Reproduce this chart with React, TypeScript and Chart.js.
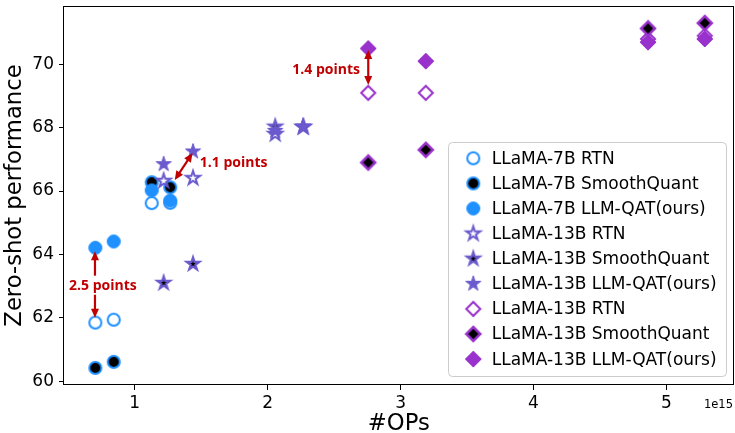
import { useEffect, useRef } from 'react';
import { Chart, registerables } from 'chart.js';

Chart.register(...registerables);

// ---------- data ----------
const xOps7B = [0.704, 0.842, 1.128, 1.267];
const xOps13B = [1.218, 1.439, 2.057, 2.268];
const xOps30B = [2.757, 3.19, 4.862, 5.289];

const rtn7B = [61.85, 61.94, 65.62, 65.63];
const sq7B = [60.42, 60.61, 66.28, 66.12];
const qat7B = [64.21, 64.41, 66.02, 65.7];

const rtn13B = [66.32, 66.41, 67.8, 68.02];
const sq13B = [63.1, 63.7, 68.03, 68.02];
const qat13B = [66.85, 67.25, 67.9, 68.04];

const rtn30B = [69.1, 69.1, 70.8, 70.9];
const sq30B = [66.9, 67.3, 71.13, 71.3];
const qat30B = [70.5, 70.1, 70.7, 70.8];

const seriesLabels = [
  'LLaMA-7B RTN',
  'LLaMA-7B SmoothQuant',
  'LLaMA-7B LLM-QAT(ours)',
  'LLaMA-13B RTN',
  'LLaMA-13B SmoothQuant',
  'LLaMA-13B LLM-QAT(ours)',
  'LLaMA-13B RTN',
  'LLaMA-13B SmoothQuant',
  'LLaMA-13B LLM-QAT(ours)',
];

const xTicks = [1, 2, 3, 4, 5];
const yTicks = [60, 62, 64, 66, 68, 70];
const xRange = [0.468, 5.505];
const yRange = [59.88, 71.84];

const xTitle = '#OPs';
const yTitle = 'Zero-shot performance';
const xOffsetText = '1e15';

// annotations (data coordinates)
const noteTexts = ['2.5 points', '1.1 points', '1.4 points'];
const noteX = [0.761, 1.49, 2.695];
const noteY = [63.01, 66.88, 69.82];
const noteAlign = ['center', 'left', 'right'];

const arrowX1 = [0.701, 0.701, 1.301, 2.757];
const arrowY1 = [63.33, 62.73, 66.35, 69.35];
const arrowX2 = [0.701, 0.701, 1.435, 2.757];
const arrowY2 = [64.1, 62.0, 67.2, 70.45];
const arrowBoth = [false, false, true, true];

// ---------- styles ----------
const BLUE = '#1E90FF';
const SLATE = '#6A5ACD';
const ORCHID = '#9932CC';
const RED = '#C00000';
const FONT = "'DejaVu Sans', sans-serif";

type Shape = 'circle' | 'star' | 'diamond';

function makeMarker(shape: Shape, size: number, fill: string | null, stroke: string, lw: number) {
  const c = document.createElement('canvas');
  c.width = 26;
  c.height = 26;
  const g = c.getContext('2d')!;
  const cx = 13, cy = 13;
  g.beginPath();
  if (shape === 'circle') {
    g.arc(cx, cy, size, 0, Math.PI * 2);
  } else if (shape === 'star') {
    const r = size * 0.381966;
    for (let k = 0; k < 10; k++) {
      const rad = k % 2 === 0 ? size : r;
      const a = -Math.PI / 2 + (k * Math.PI) / 5;
      const px = cx + rad * Math.cos(a);
      const py = cy + rad * Math.sin(a);
      if (k === 0) g.moveTo(px, py);
      else g.lineTo(px, py);
    }
  } else {
    g.moveTo(cx, cy - size);
    g.lineTo(cx + size, cy);
    g.lineTo(cx, cy + size);
    g.lineTo(cx - size, cy);
  }
  g.closePath();
  g.lineJoin = 'miter';
  if (fill) {
    g.fillStyle = fill;
    g.fill();
  }
  g.lineWidth = lw;
  g.strokeStyle = stroke;
  g.stroke();
  return c;
}

function drawArrowHead(ctx: CanvasRenderingContext2D, x: number, y: number, ang: number) {
  const L = 9, W = 4;
  ctx.beginPath();
  ctx.moveTo(x, y);
  ctx.lineTo(x - L * Math.cos(ang) + W * Math.sin(ang), y - L * Math.sin(ang) - W * Math.cos(ang));
  ctx.lineTo(x - L * Math.cos(ang) - W * Math.sin(ang), y - L * Math.sin(ang) + W * Math.cos(ang));
  ctx.closePath();
  ctx.fill();
}

const overlayPlugin = {
  id: 'overlay',
  afterDatasetsDraw(chart: any) {
    const { ctx, chartArea: ca, scales } = chart;
    const xs = scales.x, ys = scales.y;
    ctx.save();
    // frame
    ctx.strokeStyle = '#000';
    ctx.lineWidth = 1;
    const l = Math.round(ca.left) - 0.5, t = Math.round(ca.top) + 0.5;
    const r = Math.round(ca.right) - 0.5, b = Math.round(ca.bottom) - 0.5;
    ctx.strokeRect(l, t, r - l, b - t);

    // arrows
    ctx.strokeStyle = RED;
    ctx.fillStyle = RED;
    ctx.lineWidth = 2.2;
    for (let i = 0; i < arrowX1.length; i++) {
      const x1 = xs.getPixelForValue(arrowX1[i]);
      const y1 = ys.getPixelForValue(arrowY1[i]);
      const x2 = xs.getPixelForValue(arrowX2[i]);
      const y2 = ys.getPixelForValue(arrowY2[i]);
      const ang = Math.atan2(y2 - y1, x2 - x1);
      const sx = arrowBoth[i] ? x1 + 7 * Math.cos(ang) : x1;
      const sy = arrowBoth[i] ? y1 + 7 * Math.sin(ang) : y1;
      ctx.beginPath();
      ctx.moveTo(sx, sy);
      ctx.lineTo(x2 - 7 * Math.cos(ang), y2 - 7 * Math.sin(ang));
      ctx.stroke();
      drawArrowHead(ctx, x2, y2, ang);
      if (arrowBoth[i]) drawArrowHead(ctx, x1, y1, ang + Math.PI);
    }
    // annotation texts
    ctx.font = "bold 14px 'Open Sans', sans-serif";
    ctx.textBaseline = 'middle';
    for (let i = 0; i < noteTexts.length; i++) {
      ctx.textAlign = noteAlign[i] as CanvasTextAlign;
      ctx.fillText(noteTexts[i], xs.getPixelForValue(noteX[i]), ys.getPixelForValue(noteY[i]));
    }

    // legend
    const lx = 448.5, ly = 142.5, lw = 278, lh = 234;
    ctx.beginPath();
    ctx.roundRect(lx, ly, lw, lh, 4);
    ctx.fillStyle = 'rgba(255,255,255,0.85)';
    ctx.fill();
    ctx.strokeStyle = '#cccccc';
    ctx.lineWidth = 1;
    ctx.stroke();
    ctx.font = `17px ${FONT}`;
    ctx.fillStyle = '#000';
    ctx.textAlign = 'left';
    ctx.textBaseline = 'middle';
    chart.data.datasets.forEach((ds: any, i: number) => {
      const cy = 158.3 + i * 25.1;
      const img = ds.pointStyle as HTMLCanvasElement;
      ctx.drawImage(img, 473.3 - img.width / 2, cy - img.height / 2);
      ctx.fillText(ds.label, 491.7, cy + 1);
    });

    // offset text
    ctx.font = `11.5px ${FONT}`;
    ctx.textAlign = 'right';
    ctx.fillText(xOffsetText, 733, 405);
    ctx.restore();
  },
};

export default function App() {
  const ref = useRef<HTMLCanvasElement>(null);

  useEffect(() => {
    const markers = [
      makeMarker('circle', 6, null, BLUE, 2),
      makeMarker('circle', 6, '#000', BLUE, 2),
      makeMarker('circle', 6.5, BLUE, BLUE, 1),
      makeMarker('star', 7.3, null, SLATE, 2),
      makeMarker('star', 6.6, '#000', SLATE, 2.2),
      makeMarker('star', 8, SLATE, SLATE, 1),
      makeMarker('diamond', 7, null, ORCHID, 2),
      makeMarker('diamond', 7, '#000', ORCHID, 2.5),
      makeMarker('diamond', 8, ORCHID, ORCHID, 1),
    ];
    const xsets = [xOps7B, xOps7B, xOps7B, xOps13B, xOps13B, xOps13B, xOps30B, xOps30B, xOps30B];
    const ysets = [rtn7B, sq7B, qat7B, rtn13B, sq13B, qat13B, rtn30B, sq30B, qat30B];
    const datasets = ysets.map((ys, i) => ({
      label: seriesLabels[i],
      data: ys.map((y, j) => ({ x: xsets[i][j], y })),
      pointStyle: markers[i],
      pointRadius: 8,
      order: 100 - i,
      clip: false as const,
    }));

    const chart = new Chart(ref.current!, {
      type: 'scatter',
      data: { datasets },
      options: {
        animation: false,
        responsive: true,
        maintainAspectRatio: false,
        events: [],
        layout: { autoPadding: false, padding: { left: 0, top: 6, right: 1.5, bottom: 0 } },
        plugins: { legend: { display: false }, tooltip: { enabled: false } },
        scales: {
          x: {
            type: 'linear',
            min: xRange[0],
            max: xRange[1],
            afterBuildTicks: (s: any) => {
              s.ticks = xTicks.map((v) => ({ value: v }));
            },
            afterFit: (s: any) => {
              s.height = 48;
              s.paddingLeft = 0;
              s.paddingRight = 0;
              s.paddingTop = 0;
              s.paddingBottom = 0;
            },
            grid: { display: true, drawOnChartArea: false, drawTicks: true, tickLength: 5, tickColor: '#000' },
            border: { display: false },
            ticks: {
              font: { family: FONT, size: 17 },
              color: '#000',
              padding: 3,
              maxRotation: 0,
              callback: (v: any) => String(v),
            },
            title: {
              display: true,
              text: xTitle,
              font: { family: FONT, size: 22.7, lineHeight: 1 },
              color: '#000',
              padding: { top: 0, bottom: -2.5 },
            },
          },
          y: {
            type: 'linear',
            min: yRange[0],
            max: yRange[1],
            afterBuildTicks: (s: any) => {
              s.ticks = yTicks.map((v) => ({ value: v }));
            },
            afterFit: (s: any) => {
              s.width = 64;
              s.paddingLeft = 0;
              s.paddingRight = 0;
              s.paddingTop = 0;
              s.paddingBottom = 0;
            },
            grid: { display: true, drawOnChartArea: false, drawTicks: true, tickLength: 5, tickColor: '#000' },
            border: { display: false },
            ticks: {
              font: { family: FONT, size: 17 },
              color: '#000',
              padding: 5,
              callback: (v: any) => String(v),
            },
            title: {
              display: true,
              text: yTitle,
              font: { family: FONT, size: 22.7, lineHeight: 1 },
              color: '#000',
              padding: { top: 3.8, bottom: 0 },
            },
          },
        },
      },
      plugins: [overlayPlugin],
    });
    return () => chart.destroy();
  }, []);

  return (
    <div style={{ position: 'fixed', left: 0, top: 0, width: 735, height: 433, background: '#fff' }}>
      <canvas ref={ref} />
    </div>
  );
}
